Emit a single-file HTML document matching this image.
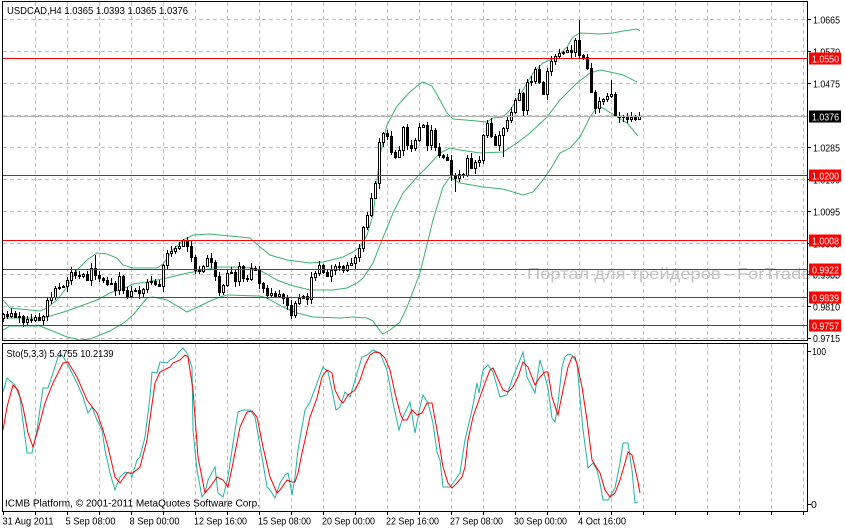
<!DOCTYPE html>
<html><head><meta charset="utf-8">
<style>
html,body{margin:0;padding:0;background:#fff;width:845px;height:528px;overflow:hidden}
svg{display:block}
text{font-family:"Liberation Sans",Arial,sans-serif;font-size:10.5px;fill:#000}
</style></head>
<body>
<svg id="s" xmlns="http://www.w3.org/2000/svg" width="845" height="528" viewBox="0 0 845 528">
<defs>
<clipPath id="cm"><rect x="3" y="2" width="804" height="338"/></clipPath>
<clipPath id="cs"><rect x="3" y="344" width="804" height="167"/></clipPath>
</defs>
<rect width="845" height="528" fill="#fff"/>

<!-- grid -->
<g stroke="#c0c0c0" stroke-width="1" stroke-dasharray="4,3" fill="none">
<path d="M35.5 2V340M67.5 2V340M99.5 2V340M131.5 2V340M163.5 2V340M195.5 2V340M227.5 2V340M259.5 2V340M291.5 2V340M323.5 2V340M355.5 2V340M387.5 2V340M419.5 2V340M451.5 2V340M483.5 2V340M515.5 2V340M547.5 2V340M579.5 2V340M611.5 2V340M643.5 2V340M675.5 2V340M707.5 2V340M739.5 2V340M771.5 2V340M803.5 2V340"/>
<path d="M35.5 344V511M67.5 344V511M99.5 344V511M131.5 344V511M163.5 344V511M195.5 344V511M227.5 344V511M259.5 344V511M291.5 344V511M323.5 344V511M355.5 344V511M387.5 344V511M419.5 344V511M451.5 344V511M483.5 344V511M515.5 344V511M547.5 344V511M579.5 344V511M611.5 344V511M643.5 344V511M675.5 344V511M707.5 344V511M739.5 344V511M771.5 344V511M803.5 344V511"/>
<path d="M3 19.5H807M3 51.5H807M3 83.5H807M3 115.5H807M3 147.5H807M3 179.5H807M3 211.5H807M3 243.5H807M3 274.5H807M3 306.5H807M3 338.5H807"/>
</g>

<!-- watermark -->
<text x="527" y="279" textLength="311" lengthAdjust="spacingAndGlyphs" style="font-size:16px;fill:#c4c4c4">Портал для трейдеров - ForTrader.ru</text>

<g clip-path="url(#cm)">
<!-- bollinger -->
<g fill="none" stroke="#3cb371" stroke-width="1">
<polyline points="3,300 10,308 40,311 47,308 57,300 67,287 77,270 87,260 97,253 107,254 117,258 123,265 133,268 157,268 163,264 173,250 183,240 193,235 210,234 220,235 250,238 260,247 270,255 287,260 310,263 323,262 343,257 353,252 360,247 367,235 373,215 380,155 387,125 397,106 410,92 417,86 423,82 432,86 440,100 447,113 453,119 477,121 487,122 493,118 503,117 510,110 523,90 533,73 543,63 557,57 567,47 573,37 580,33 600,34 613,33 623,31 637,29 640,31"/>
<polyline points="3,318 40,318 47,317 67,311 97,300 110,293 127,287 133,284 147,282 167,278 187,273 200,271 217,267 233,267 253,268 263,272 277,280 290,285 310,290 333,290 347,288 357,283 363,278 373,263 380,245 393,213 403,193 417,177 427,167 440,153 450,148 460,150 480,153 503,152 517,143 530,133 547,117 560,100 577,83 590,73 600,70 610,72 623,75 637,82"/>
<polyline points="3,330 10,326 40,326 45,328 55,332 67,337 80,340 90,339 110,331 125,322 133,315 147,298 153,297 167,300 187,312 200,306 210,301 220,297 227,295 260,296 267,298 283,307 297,313 313,317 340,318 353,317 367,318 373,321 380,331 383,334 390,330 400,322 407,307 420,273 433,220 443,187 450,177 460,183 483,187 503,189 523,195 533,192 543,180 550,170 560,153 570,148 580,137 590,117 597,107 603,108 617,117 627,123 638,136"/>
</g>
<g id="candles" fill="#000"></g>
<!-- horizontal lines -->
<path d="M3 116.5H807" stroke="#b4b4b4" stroke-width="1"/>
<path d="M3 58.5H807M3 175.5H807M3 240.5H807M3 269.5H807M3 297.5H807M3 325.5H807" stroke="#ff0000" stroke-width="1"/>
</g>

<!-- stochastic -->
<g clip-path="url(#cs)" fill="none" stroke-width="1">
<polyline stroke="#20b2aa" points="3,392 7,378 15,385 20,398 27,453 32,453 37,430 43,388 48,388 53,373 58,357 62,355 67,363 77,383 83,397 88,413 92,407 97,420 102,430 105,450 110,473 115,490 120,477 125,472 130,473 132,477 137,460 140,457 145,437 150,397 152,372 157,373 160,362 167,363 170,360 175,357 178,353 183,348 187,353 192,367 193,430 197,470 202,497 205,493 208,480 215,467 218,493 223,497 228,477 233,443 238,412 243,410 250,410 255,417 263,463 267,487 270,490 275,498 280,483 285,475 288,473 290,483 292,495 295,477 298,450 302,427 305,410 310,402 317,383 323,367 328,372 332,390 336,410 340,407 345,392 350,397 355,380 362,357 367,355 373,350 380,353 387,370 393,403 399,430 403,417 410,402 415,433 420,407 423,395 428,403 433,423 437,452 440,460 443,487 447,487 450,487 453,483 460,473 463,453 465,440 472,410 477,383 479,393 483,370 488,365 493,372 500,397 507,395 513,377 520,360 523,352 527,377 535,393 540,360 545,377 548,388 552,418 555,422 558,403 562,367 565,357 568,354 572,355 577,363 580,398 583,430 587,460 588,468 593,463 597,470 600,483 603,500 608,500 612,493 615,488 620,463 623,443 628,443 632,470 635,503 638,502"/>
<polyline stroke="#ff0000" points="3,430 7,407 13,385 18,390 23,407 28,433 33,447 38,430 45,403 53,383 63,363 68,362 77,377 87,400 97,413 103,430 108,447 115,477 120,483 127,473 133,473 140,467 147,440 155,383 160,372 170,367 173,363 180,360 185,355 188,357 193,390 198,457 205,493 210,487 217,477 223,480 228,487 233,463 240,427 247,412 252,411 257,417 263,447 270,477 277,493 280,490 287,480 292,482 295,482 298,473 302,453 305,440 310,417 317,398 322,377 327,370 332,373 335,390 340,400 343,403 348,395 355,390 360,380 365,365 370,355 375,352 380,353 385,358 390,370 395,393 400,413 403,420 407,420 412,410 417,415 422,413 427,403 432,403 437,430 443,467 448,483 452,488 457,483 462,477 465,467 468,440 473,417 480,397 485,383 490,370 493,368 497,377 503,390 508,392 513,387 518,377 523,362 528,367 535,385 540,377 545,372 548,372 552,397 558,415 563,390 568,367 572,357 575,357 578,368 582,387 587,420 592,460 600,473 605,490 610,497 615,493 620,480 625,463 628,452 632,455 637,477 640,493"/>
</g>

<!-- frames -->
<g fill="none" stroke="#000" stroke-width="1">
<rect x="2.5" y="1.5" width="805" height="339"/>
<rect x="2.5" y="343.5" width="805" height="168"/>
<path d="M807.5 19.5H811M807.5 51.5H811M807.5 83.5H811M807.5 147.5H811M807.5 179.5H811M807.5 211.5H811M807.5 243.5H811M807.5 274.5H811M807.5 306.5H811M807.5 338.5H811M807.5 351.5H811M807.5 504.5H811"/>
<path d="M3.5 511.5V515M35.5 511.5V515M67.5 511.5V515M99.5 511.5V515M131.5 511.5V515M163.5 511.5V515M195.5 511.5V515M227.5 511.5V515M259.5 511.5V515M291.5 511.5V515M323.5 511.5V515M355.5 511.5V515M387.5 511.5V515M419.5 511.5V515M451.5 511.5V515M483.5 511.5V515M515.5 511.5V515M547.5 511.5V515M579.5 511.5V515M611.5 511.5V515M643.5 511.5V515M675.5 511.5V515M707.5 511.5V515M739.5 511.5V515M771.5 511.5V515M803.5 511.5V515"/>
</g>

<!-- titles -->
<text x="7" y="14" textLength="181" lengthAdjust="spacingAndGlyphs">USDCAD,H4  1.0365 1.0393 1.0365 1.0376</text>
<text x="6.5" y="357" textLength="107" lengthAdjust="spacingAndGlyphs">Sto(5,3,3) 5.4755 10.2139</text>
<text x="5" y="506.5" textLength="255" lengthAdjust="spacingAndGlyphs">ICMB Platform, © 2001-2011 MetaQuotes Software Corp.</text>

<!-- right axis labels -->
<g>
<text x="813" y="23.5" textLength="27" lengthAdjust="spacingAndGlyphs">1.0665</text>
<text x="813" y="55.5" textLength="27" lengthAdjust="spacingAndGlyphs">1.0570</text>
<text x="813" y="87.5" textLength="27" lengthAdjust="spacingAndGlyphs">1.0475</text>
<text x="813" y="151.5" textLength="27" lengthAdjust="spacingAndGlyphs">1.0285</text>
<text x="813" y="183.5" textLength="27" lengthAdjust="spacingAndGlyphs">1.0190</text>
<text x="813" y="215.5" textLength="27" lengthAdjust="spacingAndGlyphs">1.0095</text>
<text x="813" y="247.5" textLength="27" lengthAdjust="spacingAndGlyphs">1.0000</text>
<text x="813" y="278.5" textLength="27" lengthAdjust="spacingAndGlyphs">0.9905</text>
<text x="813" y="310.5" textLength="27" lengthAdjust="spacingAndGlyphs">0.9810</text>
<text x="813" y="342" textLength="27" lengthAdjust="spacingAndGlyphs">0.9715</text>
<text x="812" y="355" textLength="14" lengthAdjust="spacingAndGlyphs">100</text>
<text x="811" y="508">0</text>
</g>

<!-- price boxes -->
<g>
<rect x="809" y="52.5" width="32" height="12" fill="#ff0000"/>
<text x="812" y="62.5" textLength="27" lengthAdjust="spacingAndGlyphs" style="fill:#fff">1.0550</text>
<rect x="809" y="110.5" width="32" height="12" fill="#000"/>
<text x="812" y="120.5" textLength="27" lengthAdjust="spacingAndGlyphs" style="fill:#fff">1.0376</text>
<rect x="809" y="169.5" width="32" height="12" fill="#ff0000"/>
<text x="812" y="179.5" textLength="27" lengthAdjust="spacingAndGlyphs" style="fill:#fff">1.0200</text>
<rect x="809" y="234.5" width="32" height="12" fill="#ff0000"/>
<text x="812" y="244.5" textLength="27" lengthAdjust="spacingAndGlyphs" style="fill:#fff">1.0008</text>
<rect x="809" y="263.5" width="32" height="12" fill="#ff0000"/>
<text x="812" y="273.5" textLength="27" lengthAdjust="spacingAndGlyphs" style="fill:#fff">0.9922</text>
<rect x="809" y="291.5" width="32" height="12" fill="#ff0000"/>
<text x="812" y="301.5" textLength="27" lengthAdjust="spacingAndGlyphs" style="fill:#fff">0.9839</text>
<rect x="809" y="319.5" width="32" height="12" fill="#ff0000"/>
<text x="812" y="329.5" textLength="27" lengthAdjust="spacingAndGlyphs" style="fill:#fff">0.9757</text>
</g>

<!-- date axis -->
<g>
<text x="2.5" y="524.5" textLength="51" lengthAdjust="spacingAndGlyphs">31 Aug 2011</text>
<text x="65.5" y="524.5" textLength="50" lengthAdjust="spacingAndGlyphs">5 Sep 08:00</text>
<text x="129.5" y="524.5" textLength="50" lengthAdjust="spacingAndGlyphs">8 Sep 00:00</text>
<text x="194" y="524.5" textLength="53" lengthAdjust="spacingAndGlyphs">12 Sep 16:00</text>
<text x="258" y="524.5" textLength="53" lengthAdjust="spacingAndGlyphs">15 Sep 08:00</text>
<text x="322" y="524.5" textLength="53" lengthAdjust="spacingAndGlyphs">20 Sep 00:00</text>
<text x="386" y="524.5" textLength="53" lengthAdjust="spacingAndGlyphs">22 Sep 16:00</text>
<text x="450" y="524.5" textLength="53" lengthAdjust="spacingAndGlyphs">27 Sep 08:00</text>
<text x="514" y="524.5" textLength="53" lengthAdjust="spacingAndGlyphs">30 Sep 00:00</text>
<text x="578" y="524.5" textLength="48" lengthAdjust="spacingAndGlyphs">4 Oct 16:00</text>
</g>
</svg>
<script>
(function(){
var C=[314,316,313,317,316,322,319,320,317,320,
316,300,297,288,287,286,280,272,275,276,
274,280,268,275,278,280,284,283,290,276,
290,296,291,290,293,289,282,281,284,286,
265,253,251,248,246,240,246,257,270,271,
266,258,262,276,292,285,273,272,281,266,
278,279,268,270,283,288,295,293,296,294,
298,305,315,303,298,296,299,277,273,265,
272,276,270,266,266,270,265,263,257,248,
227,215,198,183,142,133,136,152,157,150,
127,145,148,140,127,125,145,130,147,155,
157,160,175,178,174,175,158,168,162,160,
135,123,136,145,135,128,120,112,100,93,
110,82,81,69,82,94,71,61,56,53,
52,50,52,40,55,57,68,92,108,101,
99,96,94,116,117,116,119,117,119,116];
var hiO={23:255,144:20,152:80},loO={54:296,113:192,125:157};
var g=document.getElementById('candles');
var NS='http://www.w3.org/2000/svg';
function r(x,y,w,h,f){var e=document.createElementNS(NS,'rect');e.setAttribute('x',x);e.setAttribute('y',y);e.setAttribute('width',w);e.setAttribute('height',h);if(f)e.setAttribute('fill',f);g.appendChild(e);}
for(var i=0;i<C.length;i++){
 var x=3+4*i,c=C[i],o=i?C[i-1]:318;
 if(i==C.length-1){o=119;c=116;}
 var t=Math.min(o,c),b=Math.max(o,c);
 if(b-t<1)b=t+1;
 var hi=t-(1+(i*7)%5),lo=b+(1+(i*11+3)%6);
 if(hiO[i]!==undefined)hi=hiO[i];
 if(loO[i]!==undefined)lo=loO[i];
 r(x,hi,1,lo-hi);
 r(x-1,t,3,b-t+1);
 if(c<o&&b-t>=2)r(x,t+1,1,b-t-1,'#fff');
}
})();
</script>
</body></html>
